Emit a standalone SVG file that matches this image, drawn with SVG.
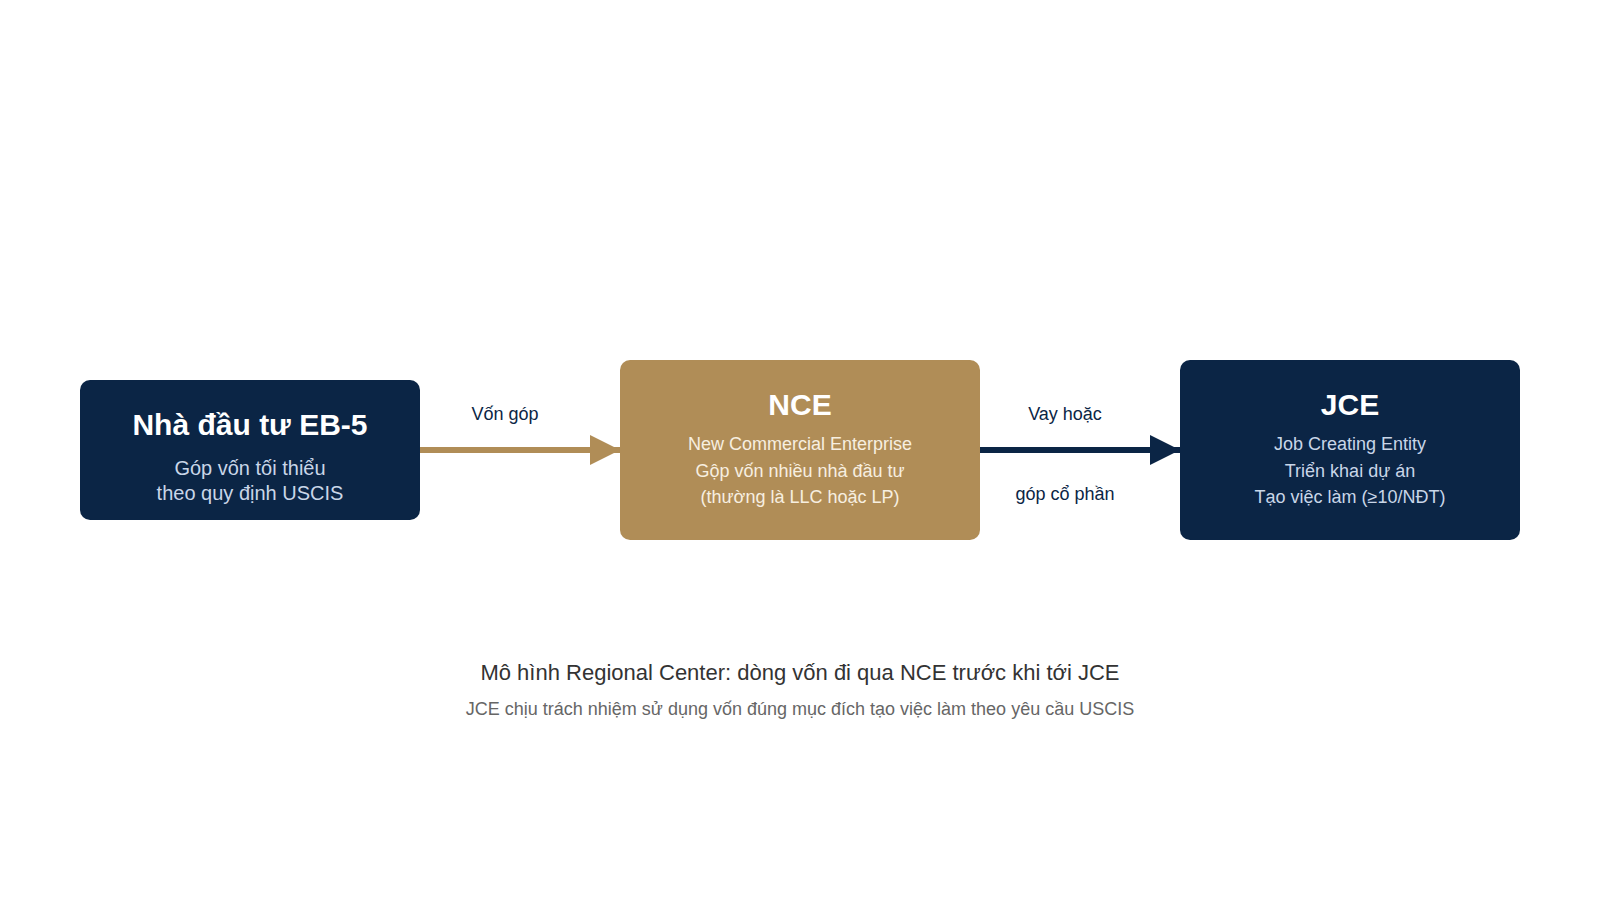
<svg xmlns="http://www.w3.org/2000/svg" width="1600" height="900" viewBox="0 0 1600 900">
<style>
text{font-family:"Liberation Sans",Arial,sans-serif;text-anchor:middle}
.title{font-size:30px;font-weight:bold;fill:#ffffff}
.sub{font-size:20px;fill:#c9d6e8}
.sub18{font-size:18px;fill:#c9d6e8}
.subg{font-size:18px;fill:#f7efe0}
.lbl{font-size:18px;fill:#0b2545}
.cap{font-size:22px;fill:#333333}
.cap2{font-size:18px;fill:#666666}
.navy{fill:#0b2545}
.gold{fill:#b08d57}
</style>
<defs>
<marker id="ahGold" markerWidth="30" markerHeight="30" refX="30" refY="15" orient="auto" markerUnits="userSpaceOnUse">
<path d="M0,0 L30,15 L0,30 Z" fill="#b08d57"/>
</marker>
<marker id="ahNavy" markerWidth="30" markerHeight="30" refX="30" refY="15" orient="auto" markerUnits="userSpaceOnUse">
<path d="M0,0 L30,15 L0,30 Z" fill="#0b2545"/>
</marker>
</defs>
<rect width="1600" height="900" fill="#ffffff"/>
<g id="connectors">
<line x1="420" y1="450" x2="620" y2="450" stroke="#b08d57" stroke-width="6" marker-end="url(#ahGold)"/>
<text class="lbl" x="505" y="420">Vốn góp</text>
<line x1="980" y1="450" x2="1180" y2="450" stroke="#0b2545" stroke-width="6" marker-end="url(#ahNavy)"/>
<text class="lbl" x="1065" y="420">Vay hoặc</text>
<text class="lbl" x="1065" y="500">góp cổ phần</text>
</g>
<g id="investor">
<rect class="navy" x="80" y="380" width="340" height="140" rx="10"/>
<text class="title" x="250" y="435">Nhà đầu tư EB-5</text>
<text class="sub" x="250" y="475">Góp vốn tối thiểu</text>
<text class="sub" x="250" y="500">theo quy định USCIS</text>
</g>
<g id="nce">
<rect class="gold" x="620" y="360" width="360" height="180" rx="10"/>
<text class="title" x="800" y="415">NCE</text>
<text class="subg" x="800" y="450">New Commercial Enterprise</text>
<text class="subg" x="800" y="477">Gộp vốn nhiều nhà đầu tư</text>
<text class="subg" x="800" y="503">(thường là LLC hoặc LP)</text>
</g>
<g id="jce">
<rect class="navy" x="1180" y="360" width="340" height="180" rx="10"/>
<text class="title" x="1350" y="415">JCE</text>
<text class="sub18" x="1350" y="450">Job Creating Entity</text>
<text class="sub18" x="1350" y="477">Triển khai dự án</text>
<text class="sub18" x="1350" y="503">Tạo việc làm (≥10/NĐT)</text>
</g>
<g id="caption">
<text class="cap" x="800" y="680">Mô hình Regional Center: dòng vốn đi qua NCE trước khi tới JCE</text>
<text class="cap2" x="800" y="715">JCE chịu trách nhiệm sử dụng vốn đúng mục đích tạo việc làm theo yêu cầu USCIS</text>
</g>
</svg>
